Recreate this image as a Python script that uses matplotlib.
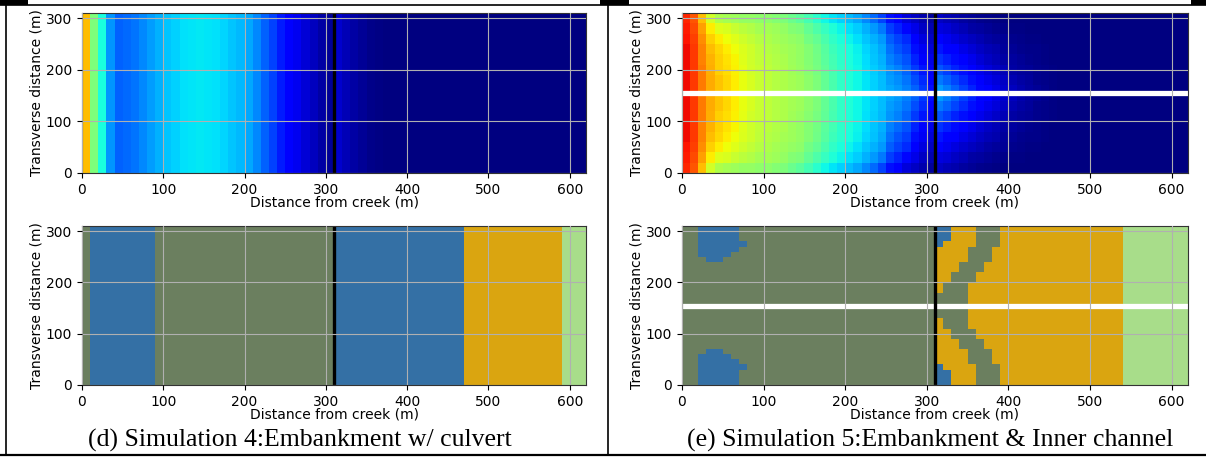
import numpy as np
import matplotlib
matplotlib.use('Agg')
import matplotlib.pyplot as plt
from matplotlib.colors import ListedColormap, BoundaryNorm
from matplotlib.lines import Line2D
from matplotlib.patches import Rectangle

# model grid: 10 m cells, 62 along the creek distance, 31 across
x_edges = np.arange(0, 630, 10)
y_edges = np.arange(0, 320, 10)
embankment_x = 310
channel_y = 155

# Simulation 4 (culvert): concentration only varies with distance
sim4_conc = [0.71, 0.50, 0.38, 0.27, 0.22, 0.23, 0.24, 0.26, 0.28, 0.30,
             0.32, 0.33, 0.345, 0.35, 0.355, 0.35, 0.345, 0.335, 0.32, 0.305,
             0.29, 0.26, 0.22, 0.19, 0.15, 0.12, 0.10, 0.075, 0.055, 0.035,
             0.02, 0.07, 0.05, 0.035, 0.02, 0.01, 0.005, 0, 0, 0,
             0, 0, 0, 0, 0, 0, 0, 0, 0, 0,
             0, 0, 0, 0, 0, 0, 0, 0, 0, 0,
             0, 0]

# Simulation 5 (inner channel): row profiles, from the side wall (A) to the channel (H)
sim5_A = [0.87, 0.82, 0.71, 0.605, 0.56, 0.55, 0.54, 0.53, 0.53, 0.52,
          0.52, 0.51, 0.50, 0.48, 0.46, 0.43, 0.40, 0.37, 0.35, 0.33,
          0.31, 0.29, 0.26, 0.23, 0.19, 0.14, 0.11, 0.08, 0.06, 0.04,
          0.025, 0.06, 0.05, 0.04, 0.03, 0.02, 0.015, 0.01, 0.005, 0,
          0, 0, 0, 0, 0, 0, 0, 0, 0, 0,
          0, 0, 0, 0, 0, 0, 0, 0, 0, 0,
          0, 0]
sim5_B = [0.88, 0.83, 0.74, 0.66, 0.62, 0.61, 0.59, 0.575, 0.565, 0.55,
          0.55, 0.54, 0.53, 0.51, 0.50, 0.47, 0.445, 0.415, 0.39, 0.365,
          0.345, 0.325, 0.30, 0.275, 0.245, 0.185, 0.16, 0.13, 0.09, 0.06,
          0.045, 0.085, 0.075, 0.06, 0.05, 0.035, 0.03, 0.02, 0.015, 0.01,
          0.005, 0.005, 0, 0, 0, 0, 0, 0, 0, 0,
          0, 0, 0, 0, 0, 0, 0, 0, 0, 0,
          0, 0]
sim5_C = [0.89, 0.84, 0.76, 0.69, 0.66, 0.64, 0.62, 0.60, 0.585, 0.57,
          0.56, 0.55, 0.54, 0.53, 0.52, 0.49, 0.47, 0.44, 0.41, 0.385,
          0.365, 0.345, 0.32, 0.30, 0.275, 0.215, 0.19, 0.165, 0.12, 0.085,
          0.06, 0.115, 0.10, 0.085, 0.07, 0.055, 0.045, 0.035, 0.025, 0.02,
          0.015, 0.01, 0.005, 0.005, 0, 0, 0, 0, 0, 0,
          0, 0, 0, 0, 0, 0, 0, 0, 0, 0,
          0, 0]
sim5_D = [0.90, 0.85, 0.77, 0.71, 0.68, 0.66, 0.64, 0.615, 0.60, 0.58,
          0.57, 0.56, 0.55, 0.54, 0.53, 0.51, 0.485, 0.455, 0.425, 0.40,
          0.38, 0.36, 0.335, 0.315, 0.29, 0.235, 0.21, 0.185, 0.14, 0.105,
          0.075, 0.145, 0.125, 0.11, 0.09, 0.075, 0.06, 0.05, 0.04, 0.025,
          0.02, 0.015, 0.01, 0.01, 0.005, 0, 0, 0, 0, 0,
          0, 0, 0, 0, 0, 0, 0, 0, 0, 0,
          0, 0]
sim5_E = [0.90, 0.85, 0.77, 0.72, 0.69, 0.67, 0.65, 0.62, 0.60, 0.585,
          0.575, 0.565, 0.555, 0.54, 0.53, 0.51, 0.49, 0.46, 0.43, 0.405,
          0.385, 0.365, 0.34, 0.32, 0.30, 0.25, 0.23, 0.205, 0.16, 0.125,
          0.09, 0.175, 0.155, 0.135, 0.115, 0.095, 0.075, 0.06, 0.05, 0.035,
          0.03, 0.02, 0.015, 0.01, 0.005, 0, 0, 0, 0, 0,
          0, 0, 0, 0, 0, 0, 0, 0, 0, 0,
          0, 0]
sim5_F = [0.90, 0.85, 0.78, 0.725, 0.69, 0.675, 0.655, 0.625, 0.605, 0.59,
          0.58, 0.57, 0.56, 0.545, 0.535, 0.515, 0.495, 0.465, 0.435, 0.41,
          0.39, 0.37, 0.345, 0.325, 0.305, 0.27, 0.25, 0.225, 0.18, 0.145,
          0.105, 0.21, 0.185, 0.16, 0.14, 0.115, 0.095, 0.08, 0.065, 0.05,
          0.035, 0.025, 0.02, 0.015, 0.01, 0.005, 0, 0, 0, 0,
          0, 0, 0, 0, 0, 0, 0, 0, 0, 0,
          0, 0]
sim5_G = [0.90, 0.85, 0.78, 0.73, 0.70, 0.68, 0.66, 0.63, 0.61, 0.59,
          0.58, 0.57, 0.56, 0.55, 0.54, 0.52, 0.50, 0.47, 0.44, 0.41,
          0.39, 0.37, 0.35, 0.33, 0.31, 0.28, 0.265, 0.24, 0.20, 0.165,
          0.125, 0.245, 0.22, 0.195, 0.165, 0.14, 0.11, 0.095, 0.08, 0.06,
          0.045, 0.035, 0.025, 0.015, 0.01, 0.005, 0, 0, 0, 0,
          0, 0, 0, 0, 0, 0, 0, 0, 0, 0,
          0, 0]
sim5_H = [0.90, 0.85, 0.78, 0.73, 0.70, 0.68, 0.66, 0.63, 0.61, 0.59,
          0.58, 0.57, 0.56, 0.55, 0.54, 0.52, 0.50, 0.47, 0.44, 0.41,
          0.39, 0.37, 0.35, 0.33, 0.31, 0.29, 0.275, 0.25, 0.22, 0.18,
          0.14, 0.28, 0.25, 0.22, 0.19, 0.16, 0.13, 0.11, 0.09, 0.07,
          0.055, 0.04, 0.03, 0.02, 0.012, 0.006, 0, 0, 0, 0,
          0, 0, 0, 0, 0, 0, 0, 0, 0, 0,
          0, 0]
sim5_profiles = [sim5_A, sim5_B, sim5_C, sim5_D, sim5_E, sim5_F, sim5_G, sim5_H]
# which profile each row uses, bottom row (0-10 m) first
sim5_row_profile = [0, 0, 1, 1, 2, 2, 3, 3, 4, 4, 5, 5, 6, 6, 7, 7,
                    7, 6, 6, 5, 5, 4, 4, 3, 3, 2, 2, 1, 1, 0, 0]

# vegetation classes
veg_colors = ['#6b7f5f', '#3470a5', '#daa510', '#a8dd8a']

# Simulation 4 vegetation: bands along distance
sim4_veg_edges = [0, 10, 90, 310, 470, 590, 620]
sim4_veg_codes = [0, 1, 0, 1, 2, 3]

# Simulation 5 vegetation, upper half rows (mirrored about the channel)
sim5_veg_rows = [300, 290, 280, 270, 260, 250, 240, 230, 220, 210, 200, 190, 180, 170, 160, 150]
pond_x0 = [20, 20, 20, 20, 20, 20, 30, 0, 0, 0, 0, 0, 0, 0, 0, 0]
pond_x1 = [70, 70, 70, 80, 70, 60, 50, 0, 0, 0, 0, 0, 0, 0, 0, 0]
levee_blue_x1 = [330, 330, 330, 320, 310, 310, 310, 310, 310, 310, 310, 310, 310, 310, 310, 310]
band_x0 = [360, 360, 360, 360, 350, 350, 350, 340, 340, 330, 330, 320, 320, 310, 310, 310]
band_x1 = [390, 390, 390, 390, 380, 380, 380, 370, 370, 360, 360, 350, 350, 350, 350, 350]
gold_x1 = 540

# build grids
sim4_grid = np.tile(np.array(sim4_conc), (len(y_edges) - 1, 1))
sim5_grid = np.array([sim5_profiles[k] for k in sim5_row_profile])

xc = x_edges[:-1]
sim4_veg = np.zeros((len(y_edges) - 1, len(xc)), dtype=int)
for i in range(len(sim4_veg_codes)):
    sim4_veg[:, (xc >= sim4_veg_edges[i]) & (xc < sim4_veg_edges[i + 1])] = sim4_veg_codes[i]

sim5_veg = np.zeros((len(y_edges) - 1, len(xc)), dtype=int)
for i, r in enumerate(sim5_veg_rows):
    row = np.zeros(len(xc), dtype=int)
    row[(xc >= pond_x0[i]) & (xc < pond_x1[i])] = 1
    row[(xc >= embankment_x) & (xc < gold_x1)] = 2
    row[(xc >= embankment_x) & (xc < levee_blue_x1[i])] = 1
    row[(xc >= band_x0[i]) & (xc < band_x1[i])] = 0
    row[xc >= gold_x1] = 3
    sim5_veg[r // 10] = row
    sim5_veg[(300 - r) // 10] = row

veg_cmap = ListedColormap(veg_colors)
veg_norm = BoundaryNorm([-0.5, 0.5, 1.5, 2.5, 3.5], 4)

fig = plt.figure(figsize=(12.06, 4.59), dpi=100)

left_x = [82 / 1206, 682 / 1206]
widths = [504 / 1206, 506 / 1206]
top_y, top_h = (459 - 173) / 459, 160 / 459
bot_y, bot_h = (459 - 385) / 459, 159 / 459


def style_axes(ax):
    ax.set_xlim(0, 620)
    ax.set_ylim(0, 310)
    ax.set_xticks(range(0, 601, 100))
    ax.set_yticks(range(0, 301, 100))
    ax.set_axisbelow(False)
    ax.grid(True, color='#b0b0b0', lw=0.8)
    ax.tick_params(labelsize=10)
    ax.set_xlabel('Distance from creek (m)', fontsize=10, labelpad=-1)
    ax.set_ylabel('Transverse distance (m)', fontsize=10, labelpad=2)
    for s in ax.spines.values():
        s.set_color('#333333')


panels = [(sim4_grid, sim4_veg, False), (sim5_grid, sim5_veg, True)]
for col, (conc, veg, has_channel) in enumerate(panels):
    ax1 = fig.add_axes([left_x[col], top_y, widths[col], top_h])
    ax1.pcolormesh(x_edges, y_edges, conc, cmap='jet', vmin=0, vmax=1,
                   shading='flat', antialiased=False, edgecolors='none')
    ax2 = fig.add_axes([left_x[col], bot_y, widths[col], bot_h])
    ax2.pcolormesh(x_edges, y_edges, veg, cmap=veg_cmap, norm=veg_norm,
                   shading='flat', antialiased=False, edgecolors='none')
    for ax in (ax1, ax2):
        if has_channel:
            ax.axhline(channel_y, color='white', lw=3.8, zorder=2)
        ax.axvline(embankment_x, color='black', lw=2.4, zorder=2.2)
        style_axes(ax)

fig.text(88 / 1206, 19 / 459, '(d) Simulation 4:Embankment w/ culvert',
         family='Liberation Serif', fontsize=18.5, ha='left', va='center')
fig.text(687 / 1206, 19 / 459, '(e) Simulation 5:Embankment & Inner channel',
         family='Liberation Serif', fontsize=18.5, ha='left', va='center')

# table frame around the panels
def frame_line(xs, ys, lw):
    fig.add_artist(Line2D(xs, ys, transform=fig.transFigure, color='black', lw=lw))

frame_line([0, 1], [1 - 5 / 459, 1 - 5 / 459], 1.2)
frame_line([0, 1], [4 / 459, 4 / 459], 1.6)
frame_line([6 / 1206, 6 / 1206], [4 / 459, 1 - 5 / 459], 1.2)
frame_line([608 / 1206, 608 / 1206], [4 / 459, 1 - 5 / 459], 1.2)
for x0, x1 in [(0, 28), (600, 629), (1191, 1206)]:
    fig.add_artist(Rectangle((x0 / 1206, 1 - 5 / 459), (x1 - x0) / 1206, 5 / 459,
                             transform=fig.transFigure, color='black', lw=0))

fig.savefig('out.png', dpi=100)
